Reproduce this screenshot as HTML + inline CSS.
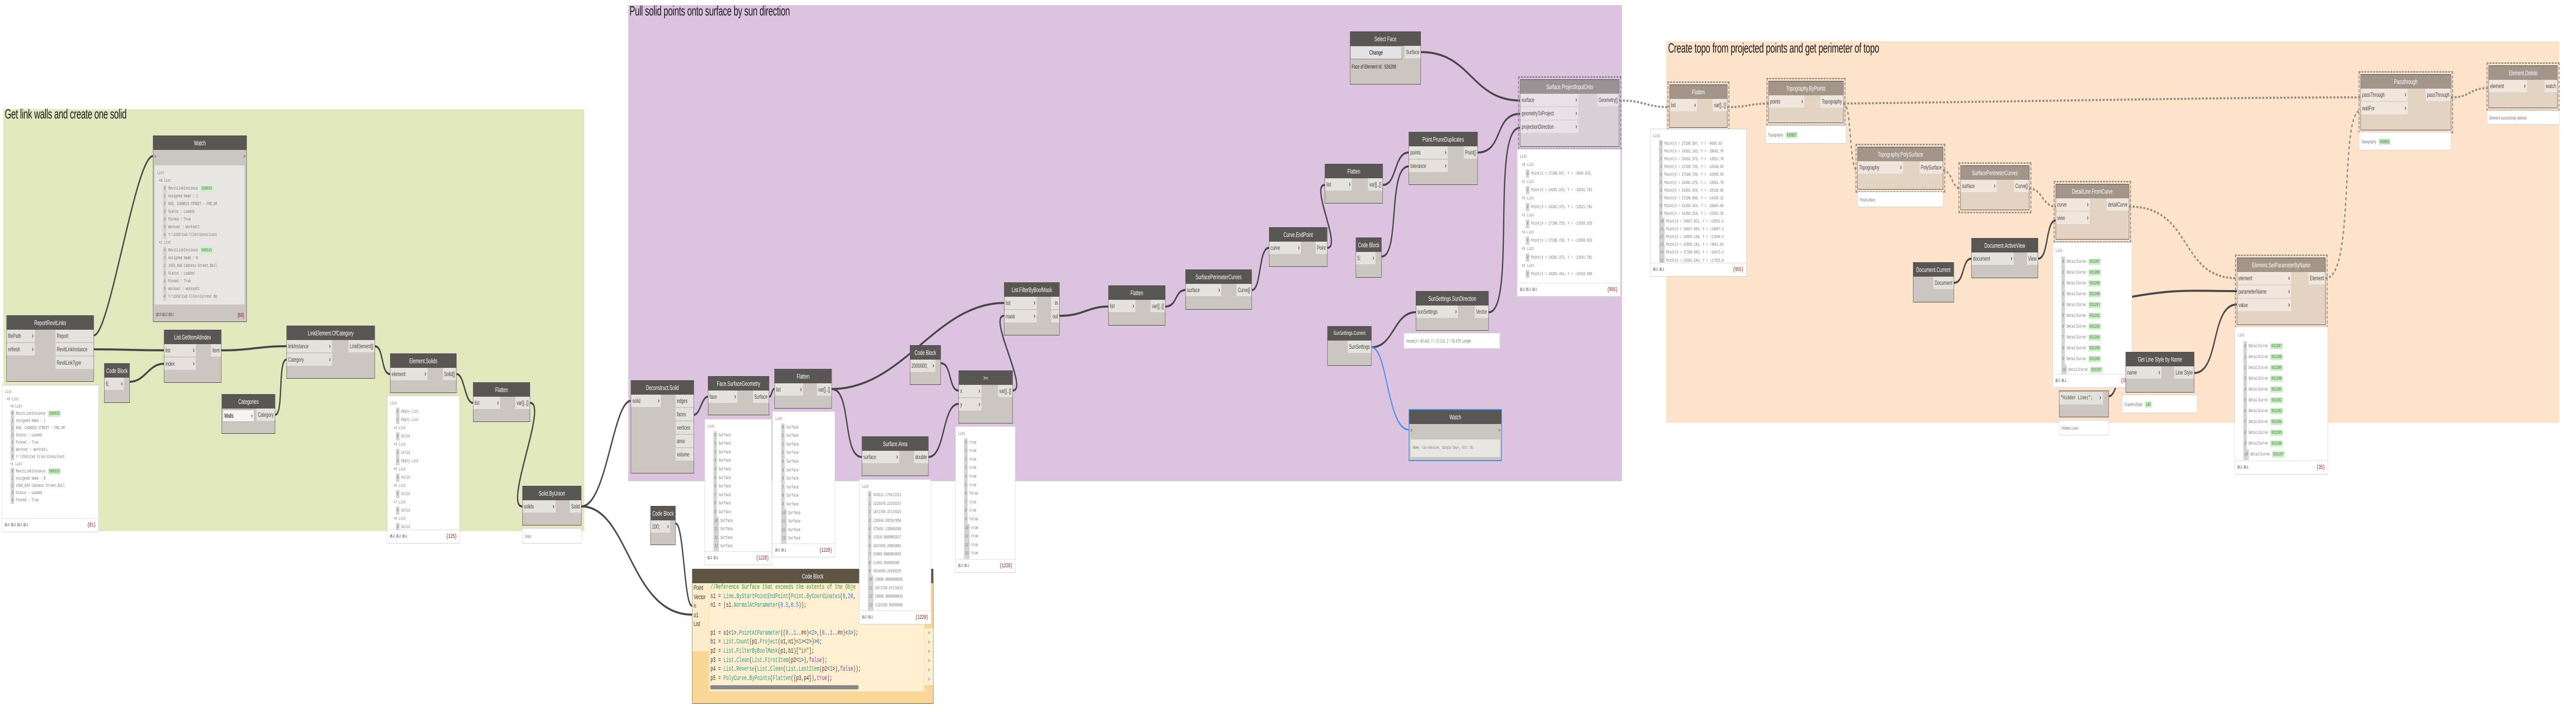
<!DOCTYPE html>
<html><head><meta charset="utf-8"><style>
*{box-sizing:border-box;margin:0;padding:0}
html{overflow:hidden;background:#fff}
body{overflow:hidden;background:#fff}
#W{width:7984px;height:1382px;background:#fff;position:relative;overflow:hidden;font-family:"Liberation Sans",sans-serif;transform-origin:0 0}
.g{position:absolute}
.t{position:absolute;font-size:26px;color:#1a1a1a;white-space:nowrap;letter-spacing:-0.5px}
.n{position:absolute;background:#cbc6bf;border:1px solid #4a4a4a}
.n .h{height:27px;background:#5a5654;color:#fff;text-align:center;font-size:13px;line-height:27px;white-space:nowrap;overflow:hidden}
.in{position:absolute;left:0;top:27px}
.in div,.out div{height:24px;margin-bottom:2px;background:#e5e2dd;font-size:12px;line-height:24px;color:#444;white-space:nowrap;position:relative}
.in div{padding-left:4px;padding-right:16px}
.in div:after{content:"\203A";position:absolute;right:4px;top:0;font-size:15px;font-weight:bold}
.out{position:absolute;right:0;top:27px;text-align:right}
.out div{padding:0 4px}
.o{background:#e3d3c2;outline:3px dashed #9a9088;outline-offset:3px}
.o .h{background:#a39589}
.o .in div,.o .out div{background:#f0e6dc}
.p{background:#d8cfd7;outline:3px dashed #8e8790;outline-offset:3px}
.p .h{background:#9a9395}
.p .in div,.p .out div{background:#e9e1e8}
.L{position:absolute;background:#fff;border:1px solid #cfcfcf;font-family:"Liberation Mono",monospace;font-size:9px;color:#777;overflow:hidden}
.L .c{position:absolute;left:8px;top:6px;right:6px;line-height:17px;white-space:nowrap;overflow:hidden}
.L .f{position:absolute;left:0;right:0;bottom:0;height:26px;border-top:1px solid #ddd;line-height:26px;padding:0 8px;font-size:8px;color:#333;background:#fff}
.L .f b{float:right;color:#8b0000;font-weight:normal;font-size:11px}
i.x{display:inline-block;background:#d4d4d4;color:#777;font-style:italic;padding:0 3px;margin:0 5px 0 18px}
u.k{text-decoration:none;background:#c6f3c0;color:#555;padding:1px 3px;margin-left:8px}
.pv{position:absolute;background:#fff;border:1px solid #d0d0d0;font-size:9px;color:#777;padding:0 6px;line-height:30px;white-space:nowrap;overflow:hidden}
.cb{color:#1a73e8}
</style></head><body><div id="W">

<div class="g" style="left:10px;top:212px;width:1801px;height:819px;background:#e1e8be"></div>
<div class="g" style="left:1947px;top:10px;width:3080px;height:924px;background:#dcc4e1"></div>
<div class="g" style="left:5164px;top:80px;width:2768px;height:741px;background:#fde3c9"></div>
<div class="t" style="left:15px;top:206px">Get link walls and create one solid</div>
<div class="t" style="left:1951px;top:6px">Pull solid points onto surface by sun direction</div>
<div class="t" style="left:5170px;top:78px">Create topo from projected points and get perimeter of topo</div>

<svg class="g" style="left:0;top:0" width="7984" height="1382">
<g fill="none" stroke="#474747" stroke-width="4">
<path d="M291 651 C340 651 420 303 474 303"/>
<path d="M291 678 C400 678 400 680 508 680"/>
<path d="M402 741 C450 741 460 706 508 706"/>
<path d="M686 680 C780 680 800 672 888 672"/>
<path d="M853 805 C880 805 860 698 888 698"/>
<path d="M1162 672 C1190 672 1180 726 1209 726"/>
<path d="M1415 726 C1440 726 1440 782 1466 782"/>
<path d="M1643 782 C1700 782 1560 983 1619 983"/>
<path d="M1802 983 C1880 983 1900 778 1955 778"/>
<path d="M1802 983 C1950 983 1950 1193 2145 1193"/>
<path d="M2094 1016 C2120 1016 2120 1176 2145 1176"/>
<path d="M2151 805 C2170 805 2175 770 2194 770"/>
<path d="M2384 770 C2392 770 2392 755 2400 755"/>
<path d="M2578 755 C2800 755 2900 588 3112 588"/>
<path d="M2578 755 C2640 755 2610 887 2671 887"/>
<path d="M2878 887 C2930 887 2920 784 2971 784"/>
<path d="M2916 705 C2950 705 2940 758 2971 758"/>
<path d="M3139 758 C3190 758 3060 613 3112 613"/>
<path d="M3284 613 C3360 613 3370 595 3435 595"/>
<path d="M3612 595 C3650 595 3640 563 3674 563"/>
<path d="M3880 563 C3910 563 3900 481 3933 481"/>
<path d="M4114 481 C4160 481 4060 359 4106 359"/>
<path d="M4286 359 C4330 359 4320 296 4366 296"/>
<path d="M4282 498 C4340 498 4300 323 4366 323"/>
<path d="M4580 296 C4660 296 4630 221 4711 221"/>
<path d="M4404 101 C4560 101 4560 195 4711 195"/>
<path d="M4614 606 C4700 606 4620 248 4711 248"/>
<path d="M4251 674 C4320 674 4320 606 4388 606"/>
<path d="M6056 549 C6090 549 6080 502 6110 502"/>
<path d="M6317 502 C6350 502 6340 428 6371 428"/>
<path d="M6536 769 C6560 769 6560 724 6588 724"/>
<path d="M6608 576 C6750 560 6800 565 6933 565"/>
<path d="M6801 724 C6880 724 6850 591 6933 591"/>
</g>
<path d="M4251 674 C4300 674 4300 834 4366 834" fill="none" stroke="#3a8ee6" stroke-width="3"/>
<g fill="none" stroke="#8f8a86" stroke-width="4" stroke-dasharray="6 5">
<path d="M5019 195 C5100 195 5100 208 5174 208"/>
<path d="M5354 208 C5420 208 5420 201 5481 201"/>
<path d="M5714 201 C6500 195 6900 189 7316 189"/>
<path d="M5714 201 C5740 201 5730 331 5757 331"/>
<path d="M6023 331 C6050 331 6050 366 6076 366"/>
<path d="M6290 366 C6330 366 6330 401 6371 401"/>
<path d="M6599 401 C6800 401 6750 540 6933 540"/>
<path d="M7208 540 C7300 540 7250 215 7316 215"/>
<path d="M7597 189 C7660 189 7650 171 7713 171"/>
</g>
</svg>

<!-- GREEN -->
<div class="n" style="left:474px;top:263px;width:291px;height:362px"><div class="h">Watch</div>
<div style="position:absolute;left:0;right:0;top:27px;height:26px;font-size:11px;line-height:26px;padding:0 3px;color:#444">&gt;<span style="float:right">&gt;</span></div>
<div style="position:absolute;left:4px;right:6px;top:57px;height:270px;background:#e8e6e2;font-family:'Liberation Mono',monospace;font-size:9px;color:#777;line-height:15px;padding:8px;white-space:nowrap;overflow:hidden">List<br>&nbsp;▾0 List<br><i class="x">0</i>RevitLinkInstance<u class="k">328933</u><br><i class="x">1</i>Assigned Name : 1<br><i class="x">2</i>N30, CADNESS STREET - FRD_AM<br><i class="x">3</i>Status : Loaded<br><i class="x">4</i>Pinned : True<br><i class="x">5</i>Workset : Workset1<br><i class="x">6</i>Y:\1956\Cad Files\Consultant<br>&nbsp;▾1 List<br><i class="x">0</i>RevitLinkInstance<u class="k">569315</u><br><i class="x">1</i>Assigned Name : B<br><i class="x">2</i>1955_N30 Cadness Street_Buil<br><i class="x">3</i>Status : Loaded<br><i class="x">4</i>Pinned : True<br><i class="x">5</i>Workset : Workset1<br><i class="x">6</i>Y:\1956\Cad Files\Current Re</div>
<div style="position:absolute;left:8px;right:8px;bottom:6px;font-size:8px;color:#333">@L3 @L2 @L1<span style="float:right;color:#8b0000;font-size:11px">{63}</span></div></div>

<div class="n" style="left:20px;top:612px;width:271px;height:129px"><div class="h">ReportRevitLinks</div>
<div class="in" style="width:87px"><div>filePath</div><div>refresh</div></div>
<div class="out" style="width:118px;text-align:left"><div>Report</div><div>RevitLinkInstance</div><div>RevitLinkType</div></div></div>
<div class="L" style="left:6px;top:747px;width:300px;height:286px"><div class="c" style="line-height:14px">List<br>&nbsp;▾0 List<br>&nbsp;&nbsp;&nbsp;▾0 List<br><i class="x">0</i>RevitLinkInstance<u class="k">328933</u><br><i class="x">1</i>Assigned Name : 1<br><i class="x">2</i>N30, CADNESS STREET - FRD_AM<br><i class="x">3</i>Status : Loaded<br><i class="x">4</i>Pinned : True<br><i class="x">5</i>Workset : Workset1<br><i class="x">6</i>Y:\1956\Cad Files\Consultant<br>&nbsp;&nbsp;&nbsp;▾1 List<br><i class="x">0</i>RevitLinkInstance<u class="k">569315</u><br><i class="x">1</i>Assigned Name : B<br><i class="x">2</i>1956_N30 Cadness Street_Buil<br><i class="x">3</i>Status : Loaded<br><i class="x">4</i>Pinned : True</div><div class="f">@L4 @L3 @L2 @L1<b>{81}</b></div></div>

<div class="n" style="left:508px;top:640px;width:178px;height:103px"><div class="h">List.GetItemAtIndex</div>
<div class="in" style="width:98px"><div>list</div><div>index</div></div><div class="out"><div>item</div></div></div>
<div class="n" style="left:323px;top:705px;width:79px;height:77px"><div class="h">Code Block</div>
<div class="in" style="width:60px"><div class="cb" style="padding-right:0">6;</div></div></div>
<div class="n" style="left:888px;top:632px;width:274px;height:103px"><div class="h">LinkElement.OfCategory</div>
<div class="in" style="width:140px"><div>linkInstance</div><div>Category</div></div><div class="out"><div>LinkElement[]</div></div></div>
<div class="n" style="left:687px;top:765px;width:166px;height:77px"><div class="h">Categories</div>
<div style="position:absolute;left:2px;top:29px;width:98px;height:24px;background:#f4f4f4;border:1px solid #aaa;font-size:12px;line-height:22px;padding-left:4px">Walls<span style="float:right;padding-right:4px;font-size:9px">v</span></div>
<div class="out"><div>Category</div></div></div>
<div class="n" style="left:1209px;top:686px;width:206px;height:77px"><div class="h">Element.Solids</div>
<div class="in" style="width:115px"><div>element</div></div><div class="out"><div>Solid[]</div></div></div>
<div class="L" style="left:1200px;top:768px;width:225px;height:287px"><div class="c" style="line-height:16px">List<br><i class="x">0</i>Empty List<br><i class="x">1</i>Empty List<br>&nbsp;&nbsp;▾2 List<br><i class="x">0</i>Solid<br>&nbsp;&nbsp;▾3 List<br><i class="x">0</i>Solid<br><i class="x">4</i>Empty List<br>&nbsp;&nbsp;▾5 List<br><i class="x">0</i>Solid<br>&nbsp;&nbsp;▾6 List<br><i class="x">0</i>Solid<br>&nbsp;&nbsp;▾7 List<br><i class="x">0</i>Solid<br>&nbsp;&nbsp;▾8 List<br><i class="x">0</i>Solid</div><div class="f">@L3 @L2 @L1<b>{125}</b></div></div>
<div class="n" style="left:1466px;top:742px;width:177px;height:77px"><div class="h">Flatten</div>
<div class="in" style="width:83px"><div>list</div></div><div class="out"><div>var[]..[]</div></div></div>
<div class="n" style="left:1619px;top:943px;width:183px;height:77px"><div class="h">Solid.ByUnion</div>
<div class="in" style="width:102px"><div>solids</div></div><div class="out"><div>Solid</div></div></div>
<div class="pv" style="left:1619px;top:1025px;width:183px;height:30px">Solid</div>

<!-- PURPLE -->
<div class="n" style="left:1955px;top:738px;width:196px;height:181px"><div class="h">Deconstruct.Solid</div>
<div class="in" style="width:92px"><div>solid</div></div>
<div class="out" style="width:56px;text-align:left"><div>edges</div><div>faces</div><div>vertices</div><div>area</div><div>volume</div></div></div>
<div class="n" style="left:2194px;top:730px;width:190px;height:76px"><div class="h">Face.SurfaceGeometry</div>
<div class="in" style="width:90px"><div>face</div></div><div class="out"><div>Surface</div></div></div>
<div class="L" style="left:2184px;top:813px;width:208px;height:284px"><div class="c" style="line-height:16.6px">List<br><i class="x">0</i>Surface<br><i class="x">1</i>Surface<br><i class="x">2</i>Surface<br><i class="x">3</i>Surface<br><i class="x">4</i>Surface<br><i class="x">5</i>Surface<br><i class="x">6</i>Surface<br><i class="x">7</i>Surface<br><i class="x">8</i>Surface<br><i class="x">9</i>Surface<br><i class="x">10</i>Surface<br><i class="x">11</i>Surface<br><i class="x">12</i>Surface<br><i class="x">13</i>Surface<br><i class="x">14</i>Surface</div><div class="f">@L2 @L1<b>{1228}</b></div></div>
<div class="n" style="left:2400px;top:716px;width:178px;height:77px"><div class="h">Flatten</div>
<div class="in" style="width:88px"><div>list</div></div><div class="out"><div>var[]..[]</div></div></div>
<div class="L" style="left:2394px;top:798px;width:194px;height:284px"><div class="c" style="line-height:16.6px">List<br><i class="x">0</i>Surface<br><i class="x">1</i>Surface<br><i class="x">2</i>Surface<br><i class="x">3</i>Surface<br><i class="x">4</i>Surface<br><i class="x">5</i>Surface<br><i class="x">6</i>Surface<br><i class="x">7</i>Surface<br><i class="x">8</i>Surface<br><i class="x">9</i>Surface<br><i class="x">10</i>Surface<br><i class="x">11</i>Surface<br><i class="x">12</i>Surface<br><i class="x">13</i>Surface<br><i class="x">14</i>Surface<br><i class="x">15</i>Surface</div><div class="f">@L2 @L1<b>{1228}</b></div></div>
<div class="n" style="left:2671px;top:847px;width:207px;height:77px"><div class="h">Surface.Area</div>
<div class="in" style="width:115px"><div>surface</div></div><div class="out"><div>double</div></div></div>
<div class="n" style="left:2820px;top:670px;width:96px;height:77px"><div class="h">Code Block</div>
<div class="in" style="width:78px"><div class="cb" style="padding-right:0">2000000;</div></div></div>
<div class="n" style="left:2971px;top:719px;width:168px;height:103px"><div class="h">&gt;=</div>
<div class="in" style="width:70px"><div>x</div><div>y</div></div><div class="out"><div>var[]..[]</div></div></div>
<div class="L" style="left:2961px;top:827px;width:186px;height:285px"><div class="c" style="line-height:16.6px">List<br><i class="x">0</i>true<br><i class="x">1</i>true<br><i class="x">2</i>true<br><i class="x">3</i>true<br><i class="x">4</i>true<br><i class="x">5</i>true<br><i class="x">6</i>false<br><i class="x">7</i>true<br><i class="x">8</i>true<br><i class="x">9</i>false<br><i class="x">10</i>true<br><i class="x">11</i>true<br><i class="x">12</i>true<br><i class="x">13</i>true<br><i class="x">14</i>true<br><i class="x">15</i>true</div><div class="f">@L2 @L1<b>{1228}</b></div></div>
<div class="n" style="left:3112px;top:548px;width:172px;height:103px"><div class="h">List.FilterByBoolMask</div>
<div class="in" style="width:100px"><div>list</div><div>mask</div></div><div class="out"><div>in</div><div>out</div></div></div>
<div class="n" style="left:3435px;top:554px;width:177px;height:78px"><div class="h">Flatten</div>
<div class="in" style="width:83px"><div>list</div></div><div class="out"><div>var[]..[]</div></div></div>
<div class="n" style="left:3674px;top:523px;width:206px;height:78px"><div class="h">SurfacePerimeterCurves</div>
<div class="in" style="width:110px"><div>surface</div></div><div class="out"><div>Curve[]</div></div></div>
<div class="n" style="left:3933px;top:441px;width:181px;height:77px"><div class="h">Curve.EndPoint</div>
<div class="in" style="width:98px"><div>curve</div></div><div class="out"><div>Point</div></div></div>
<div class="n" style="left:4106px;top:318px;width:180px;height:77px"><div class="h">Flatten</div>
<div class="in" style="width:83px"><div>list</div></div><div class="out"><div>var[]..[]</div></div></div>
<div class="n" style="left:4202px;top:461px;width:80px;height:78px"><div class="h">Code Block</div>
<div class="in" style="width:60px"><div class="cb" style="padding-right:0">5;</div></div></div>
<div class="n" style="left:4366px;top:256px;width:214px;height:103px"><div class="h">Point.PruneDuplicates</div>
<div class="in" style="width:120px"><div>points</div><div>tolerance</div></div><div class="out"><div>Point[]</div></div></div>
<div class="n" style="left:4184px;top:61px;width:220px;height:103px"><div class="h">Select Face</div>
<div style="position:absolute;left:0;top:27px;width:160px;height:26px;background:#e3e3e3;border:1px solid #888;text-align:center;font-size:12px;line-height:24px">Change</div>
<div class="out"><div>Surface</div></div>
<div style="position:absolute;left:4px;top:62px;font-size:11px;color:#222">Face of Element Id : 926288</div></div>
<div class="n p" style="left:4711px;top:154px;width:308px;height:131px"><div class="h">Surface.ProjectInputOnto</div>
<div class="in" style="width:180px"><div>surface</div><div>geometryToProject</div><div>projectionDirection</div></div><div class="out"><div>Geometry[]</div></div></div>
<div class="L" style="left:4702px;top:289px;width:321px;height:287px"><div class="c" style="line-height:16.3px">List<br>&nbsp;▾0 List<br><i class="x">0</i>Point(X = 27100.597, Y = -9658.933,<br>&nbsp;▾1 List<br><i class="x">0</i>Point(X = 24201.243, Y = -10541.781<br>&nbsp;▾2 List<br><i class="x">0</i>Point(X = 24201.375, Y = -13521.781<br>&nbsp;▾3 List<br><i class="x">0</i>Point(X = 27100.729, Y = -12638.933<br>&nbsp;▾4 List<br><i class="x">0</i>Point(X = 27100.730, Y = -12658.933<br>&nbsp;▾5 List<br><i class="x">0</i>Point(X = 24201.375, Y = -13541.781<br>&nbsp;▾6 List<br><i class="x">0</i>Point(X = 24201.454, Y = -15310.969</div><div class="f">@L3 @L2 @L1<b>{955}</b></div></div>
<div class="n" style="left:4388px;top:565px;width:226px;height:77px"><div class="h">SunSettings.SunDirection</div>
<div class="in" style="width:130px"><div>sunSettings</div></div><div class="out"><div>Vector</div></div></div>
<div class="pv" style="left:4351px;top:646px;width:298px;height:31px">Vector(X = 80.441, Y = 17.231, Z = 55.478, Length</div>
<div class="n" style="left:4114px;top:633px;width:137px;height:77px"><div class="h" style="font-size:11px">SunSettings.Current</div>
<div class="out"><div>SunSettings</div></div></div>
<div class="n" style="left:4366px;top:794px;width:289px;height:101px;border:2px solid #3a8ee6"><div class="h">Watch</div>
<div style="position:absolute;left:0;right:0;top:27px;height:26px;font-size:11px;line-height:26px;padding:0 3px;color:#444">&gt;<span style="float:right">&gt;</span></div>
<div style="position:absolute;left:4px;right:4px;top:57px;height:34px;background:#e8e6e2;font-family:'Liberation Mono',monospace;font-size:8px;color:#777;line-height:34px;padding-left:6px;white-space:nowrap;overflow:hidden">Name: &lt;In-session, Single Day&gt;, Alt: 35</div></div>
<div class="n" style="left:2016px;top:982px;width:78px;height:76px"><div class="h">Code Block</div>
<div class="in" style="width:60px"><div class="cb" style="padding-right:0">100;</div></div></div>

<div class="n" style="left:2145px;top:1104px;width:748px;height:262px;background:#fad795;border-color:#6b5c45">
<div class="h" style="background:#5e5444">Code Block</div>
<div style="position:absolute;left:0;top:27px;width:51px;height:132px;background:#fdeccb;font-size:13px;color:#333;line-height:17.5px;padding-left:4px">Point<br>Vector<br>n<br>o1<br>List</div>
<div style="position:absolute;left:52px;top:27px;width:667px;height:210px;background:#fdefd0;font-family:'Liberation Mono',monospace;font-size:13.4px;line-height:17.7px;color:#333;white-space:pre;overflow:hidden;padding-left:4px"><span style="color:#2e9d2e">//Reference Surface that exceeds the extents of the Obje</span>
s1 = <span style="color:#2a9a8a">Line</span>.<span style="color:#2a9a8a">ByStartPointEndPoint</span>(<span style="color:#2a9a8a">Point</span>.<span style="color:#2a9a8a">ByCoordinates</span>(<span class="cb">0</span>,<span class="cb">20</span>,
n1 = (s1.<span style="color:#2a9a8a">NormalAtParameter</span>(<span class="cb">0.5</span>,<span class="cb">0.5</span>));


p1 = s1&lt;<span class="cb">1</span>&gt;.<span style="color:#2a9a8a">PointAtParameter</span>((<span class="cb">0</span>..<span class="cb">1</span>..#n)&lt;<span class="cb">2</span>&gt;,(<span class="cb">0</span>..<span class="cb">1</span>..#n)&lt;<span class="cb">3</span>&gt;);
b1 = <span style="color:#2a9a8a">List</span>.<span style="color:#2a9a8a">Count</span>(p1.<span style="color:#2a9a8a">Project</span>(o1,n1)&lt;<span class="cb">1</span>&gt;&lt;<span class="cb">2</span>&gt;)&gt;<span class="cb">0</span>;
p2 = <span style="color:#2a9a8a">List</span>.<span style="color:#2a9a8a">FilterByBoolMask</span>(p1,b1)[<span style="color:#8a5a2a">"in"</span>];
p3 = <span style="color:#2a9a8a">List</span>.<span style="color:#2a9a8a">Clean</span>(<span style="color:#2a9a8a">List</span>.<span style="color:#2a9a8a">FirstItem</span>(p2&lt;<span class="cb">1</span>&gt;),<span style="color:#8a3aa0">false</span>);
p4 = <span style="color:#2a9a8a">List</span>.<span style="color:#2a9a8a">Reverse</span>(<span style="color:#2a9a8a">List</span>.<span style="color:#2a9a8a">Clean</span>(<span style="color:#2a9a8a">List</span>.<span style="color:#2a9a8a">LastItem</span>(p2&lt;<span class="cb">1</span>&gt;),<span style="color:#8a3aa0">false</span>));
p5 = <span style="color:#2a9a8a">PolyCurve</span>.<span style="color:#2a9a8a">ByPoints</span>(<span style="color:#2a9a8a">Flatten</span>({p3,p4}),<span style="color:#8a3aa0">true</span>);</div>
<div style="position:absolute;left:55px;top:225px;width:460px;height:8px;background:#888;border-radius:3px"></div>
<div style="position:absolute;left:720px;top:115px;width:26px;height:110px;font-size:11px;color:#555;line-height:18px;text-align:center;background:#fdefd0">&gt;<br>&gt;<br>&gt;<br>&gt;<br>&gt;<br>&gt;</div>
</div>
<div class="L" style="left:2663px;top:930px;width:223px;height:282px"><div class="c" style="line-height:16.4px">List<br><i class="x">0</i>643511.178111321<br><i class="x">1</i>1325478.22435257<br><i class="x">2</i>1871798.47176424<br><i class="x">3</i>128546.832567856<br><i class="x">4</i>175401.138045368<br><i class="x">5</i>11510.0000003817<br><i class="x">6</i>3427650.20003881<br><i class="x">7</i>23000.0000003883<br><i class="x">8</i>11459.999999385<br><i class="x">9</i>2034566.26493225<br><i class="x">10</i>23000.0000000055<br><i class="x">11</i>1871798.47176423<br><i class="x">12</i>29800.0000000043<br><i class="x">13</i>1132399.99999996<br><i class="x">14</i>3800.00000000044<br><i class="x">15</i>3799.99999999491</div><div class="f">@L2 @L1<b>{1228}</b></div></div>

<!-- ORANGE -->
<div class="n o" style="left:5174px;top:164px;width:180px;height:84px"><div class="h">Flatten</div>
<div class="in" style="width:85px"><div>list</div></div><div class="out"><div>var[]..[]</div></div></div>
<div class="L" style="left:5115px;top:250px;width:298px;height:287px"><div class="c" style="line-height:15.1px">List<br><i class="x">0</i>Point(X = 27100.597, Y = -9658.93<br><i class="x">1</i>Point(X = 24201.243, Y = -10541.78<br><i class="x">2</i>Point(X = 24201.375, Y = -13521.78<br><i class="x">3</i>Point(X = 27100.729, Y = -12638.93<br><i class="x">4</i>Point(X = 27100.730, Y = -12658.93<br><i class="x">5</i>Point(X = 24201.375, Y = -13541.78<br><i class="x">6</i>Point(X = 24201.454, Y = -15310.96<br><i class="x">7</i>Point(X = 27100.808, Y = -14428.12<br><i class="x">8</i>Point(X = 41458.454, Y = -10064.66<br><i class="x">9</i>Point(X = 41458.519, Y = -11552.55<br><i class="x">10</i>Point(X = 34827.821, Y = -13551.5<br><i class="x">11</i>Point(X = 34827.845, Y = -14087.3<br><i class="x">12</i>Point(X = 42855.190, Y = -11840.6<br><i class="x">13</i>Point(X = 42855.181, Y = -9641.83<br><i class="x">14</i>Point(X = 27100.895, Y = -16472.5<br><i class="x">15</i>Point(X = 24201.544, Y = -17355.8</div><div class="f">@L2 @L1<b>{955}</b></div></div>
<div class="n o" style="left:5481px;top:157px;width:233px;height:82px"><div class="h">Topography.ByPoints</div>
<div class="in" style="width:110px"><div>points</div></div><div class="out"><div>Topography</div></div></div>
<div class="pv" style="left:5473px;top:243px;width:249px;height:36px;line-height:36px">Topography<u class="k">930837</u></div>
<div class="n o" style="left:5757px;top:285px;width:266px;height:83px"><div class="h">Topography.PolySurface</div>
<div class="in" style="width:140px"><div>Topography</div></div><div class="out"><div>PolySurface</div></div></div>
<div class="pv" style="left:5757px;top:372px;width:266px;height:30px">PolySurface</div>
<div class="n o" style="left:6076px;top:321px;width:214px;height:87px"><div class="h">SurfacePerimeterCurves</div>
<div class="in" style="width:112px"><div>surface</div></div><div class="out"><div>Curve[]</div></div></div>
<div class="n o" style="left:6371px;top:357px;width:228px;height:108px"><div class="h">DetailLine.FromCurve</div>
<div class="in" style="width:105px"><div>curve</div><div>view</div></div><div class="out"><div>detailCurve</div></div></div>
<div class="L" style="left:6362px;top:470px;width:246px;height:283px"><div class="c" style="line-height:21px">List<br><i class="x">0</i>DetailCurve<u class="k">931287</u><br><i class="x">1</i>DetailCurve<u class="k">931288</u><br><i class="x">2</i>DetailCurve<u class="k">931289</u><br><i class="x">3</i>DetailCurve<u class="k">931290</u><br><i class="x">4</i>DetailCurve<u class="k">931291</u><br><i class="x">5</i>DetailCurve<u class="k">931292</u><br><i class="x">6</i>DetailCurve<u class="k">931293</u><br><i class="x">7</i>DetailCurve<u class="k">931294</u><br><i class="x">8</i>DetailCurve<u class="k">931295</u><br><i class="x">9</i>DetailCurve<u class="k">931296</u><br><i class="x">10</i>DetailCurve<u class="k">931297</u></div><div class="f">@L2 @L1<b>{35}</b></div></div>
<div class="n" style="left:6110px;top:462px;width:207px;height:78px"><div class="h">Document.ActiveView</div>
<div class="in" style="width:130px"><div>document</div></div><div class="out"><div>View</div></div></div>
<div class="n" style="left:5929px;top:509px;width:127px;height:78px"><div class="h">Document.Current</div>
<div class="out"><div>Document</div></div></div>
<div class="n" style="left:6382px;top:758px;width:154px;height:52px">
<div class="in" style="top:2px;width:135px"><div style="padding-right:0;font-family:'Liberation Mono',monospace;font-size:11px">"Hidden Lines";</div></div></div>
<div class="pv" style="left:6382px;top:815px;width:154px;height:30px">Hidden Lines</div>
<div class="n" style="left:6588px;top:683px;width:213px;height:79px"><div class="h">Get Line Style by Name</div>
<div class="in" style="width:110px"><div>name</div></div><div class="out"><div>Line Style</div></div></div>
<div class="pv" style="left:6577px;top:766px;width:233px;height:36px;line-height:36px">GraphicsStyle<u class="k">192</u></div>
<div class="n o" style="left:6933px;top:500px;width:275px;height:131px"><div class="h">Element.SetParameterByName</div>
<div class="in" style="width:167px"><div>element</div><div>parameterName</div><div>value</div></div><div class="out"><div>Element</div></div></div>
<div class="L" style="left:6926px;top:634px;width:289px;height:287px"><div class="c" style="line-height:21px">List<br><i class="x">0</i>DetailCurve<u class="k">931287</u><br><i class="x">1</i>DetailCurve<u class="k">931288</u><br><i class="x">2</i>DetailCurve<u class="k">931289</u><br><i class="x">3</i>DetailCurve<u class="k">931290</u><br><i class="x">4</i>DetailCurve<u class="k">931291</u><br><i class="x">5</i>DetailCurve<u class="k">931292</u><br><i class="x">6</i>DetailCurve<u class="k">931293</u><br><i class="x">7</i>DetailCurve<u class="k">931294</u><br><i class="x">8</i>DetailCurve<u class="k">931295</u><br><i class="x">9</i>DetailCurve<u class="k">931296</u><br><i class="x">10</i>DetailCurve<u class="k">931297</u></div><div class="f">@L2 @L1<b>{35}</b></div></div>
<div class="n o" style="left:7316px;top:144px;width:281px;height:109px"><div class="h">Passthrough</div>
<div class="in" style="width:145px"><div>passThrough</div><div>waitFor</div></div><div class="out"><div>passThrough</div></div></div>
<div class="pv" style="left:7311px;top:256px;width:286px;height:36px;line-height:36px">Topography<u class="k">930831</u></div>
<div class="n o" style="left:7713px;top:127px;width:214px;height:83px"><div class="h">Element.Delete</div>
<div class="in" style="width:118px"><div>element</div></div><div class="out"><div>watch</div></div></div>
<div class="pv" style="left:7708px;top:214px;width:224px;height:28px;line-height:28px">Element successfully deleted</div>
</div>
<script>
(function(){var w=document.documentElement.clientWidth||window.innerWidth,h=document.documentElement.clientHeight||window.innerHeight;
if(w>0&&h>0&&(w<7984||h<1382)){var sx=Math.min(1,w/7984),sy=Math.min(1,h/1382);document.getElementById('W').style.transform='scale('+sx+','+sy+')';}})();
</script>
</body></html>
